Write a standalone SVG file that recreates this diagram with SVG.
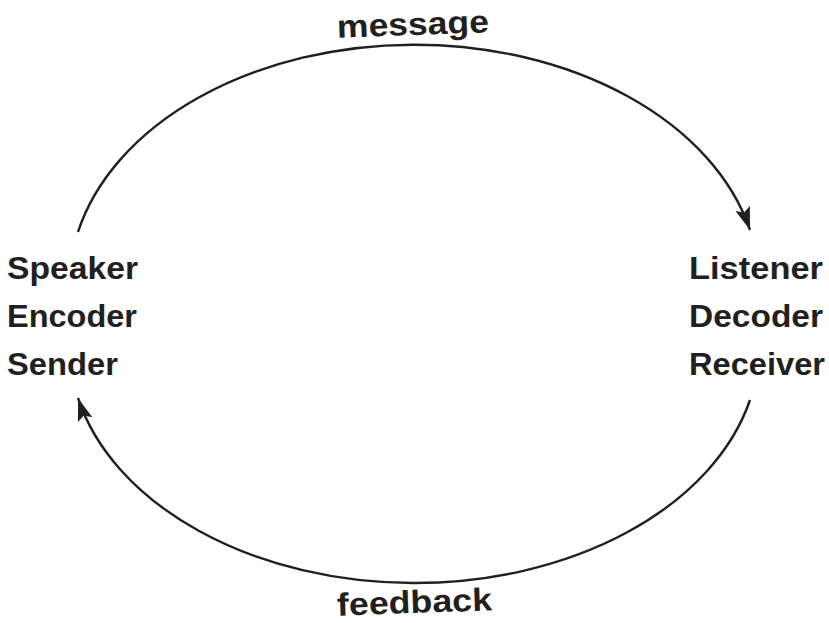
<svg xmlns="http://www.w3.org/2000/svg" width="829" height="623" viewBox="0 0 829 623">
<style>
.lbl{font-family:"Liberation Sans","DejaVu Sans",sans-serif;font-weight:bold;font-size:32px;fill:#231f20}
.edge{fill:none;stroke:#231f20;stroke-width:2.4}
</style>
<defs>
<marker id="ah" markerUnits="userSpaceOnUse" markerWidth="26" markerHeight="20" refX="21" refY="8" orient="auto" viewBox="0 0 24 16">
<path d="M0,1 L21,8 L0,15 L4,8 Z" fill="#231f20"/>
</marker>
</defs>
<rect width="829" height="623" fill="#fff"/>
<g id="connectors">
<path class="edge" d="M78,232 A345,241 0 0 1 750,230" marker-end="url(#ah)"/>
<path class="edge" d="M750,400 A345,238 0 0 1 78,398" marker-end="url(#ah)"/>
<text class="lbl" x="337" y="35" textLength="152" lengthAdjust="spacingAndGlyphs" transform="rotate(-2 413 27)">message</text>
<text class="lbl" x="337" y="613" textLength="155" lengthAdjust="spacingAndGlyphs" transform="rotate(-2 413 604)">feedback</text>
</g>
<g id="sender">
<text class="lbl" x="7" y="279" textLength="131" lengthAdjust="spacingAndGlyphs">Speaker</text>
<text class="lbl" x="7" y="327" textLength="130" lengthAdjust="spacingAndGlyphs">Encoder</text>
<text class="lbl" x="7" y="375" textLength="111" lengthAdjust="spacingAndGlyphs">Sender</text>
</g>
<g id="receiver">
<text class="lbl" x="689" y="279" textLength="134" lengthAdjust="spacingAndGlyphs">Listener</text>
<text class="lbl" x="689" y="327" textLength="134" lengthAdjust="spacingAndGlyphs">Decoder</text>
<text class="lbl" x="689" y="375" textLength="136" lengthAdjust="spacingAndGlyphs">Receiver</text>
</g>
</svg>
